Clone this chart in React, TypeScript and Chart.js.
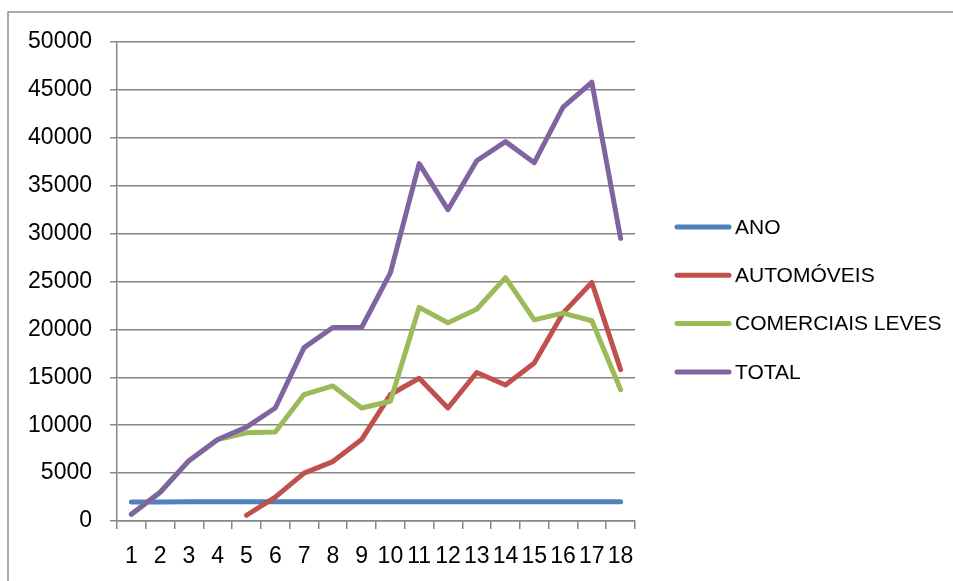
import { useEffect, useRef } from "react";
import { Chart, registerables } from "chart.js";

Chart.register(...registerables);

const categories = ["1", "2", "3", "4", "5", "6", "7", "8", "9", "10", "11", "12", "13", "14", "15", "16", "17", "18"];
const seriesNames = ["ANO", "AUTOMÓVEIS", "COMERCIAIS LEVES", "TOTAL"];
const ano = [1995, 1996, 1997, 1998, 1999, 2000, 2001, 2002, 2003, 2004, 2005, 2006, 2007, 2008, 2009, 2010, 2011, 2012];
const automoveis = [null, null, null, null, 600, 2500, 5000, 6200, 8500, 13200, 14900, 11800, 15500, 14200, 16500, 21700, 24900, 15800];
const comerciaisLeves = [700, 3000, 6300, 8500, 9200, 9300, 13200, 14100, 11800, 12500, 22300, 20700, 22100, 25400, 21000, 21700, 20900, 13700];
const total = [700, 3000, 6300, 8500, 9800, 11800, 18100, 20200, 20200, 25900, 37300, 32500, 37600, 39600, 37400, 43200, 45800, 29500];
const seriesColors = ["#4F81BD", "#C0504D", "#9BBB59", "#8064A2"];
const yMin = 0;
const yMax = 50000;
const yStep = 5000;

const FONT = "'Liberation Sans', Arial, sans-serif";
const GRID = "#868686";

export default function App() {
  const ref = useRef<HTMLCanvasElement>(null);

  useEffect(() => {
    const frame = {
      id: "frame",
      beforeDraw(chart: any) {
        const ctx = chart.ctx;
        ctx.save();
        ctx.fillStyle = "#ffffff";
        ctx.fillRect(0, 0, chart.width, chart.height);
        ctx.strokeStyle = "#8f8f8f";
        ctx.lineWidth = 1.5;
        ctx.strokeRect(8, 12, chart.width + 20, chart.height + 20);
        ctx.restore();
      },
    };
    const legendPlugin = {
      id: "customLegend",
      afterDraw(chart: any) {
        const ctx = chart.ctx;
        ctx.save();
        ctx.font = `21px ${FONT}`;
        ctx.textBaseline = "middle";
        ctx.textAlign = "left";
        seriesNames.forEach((name, i) => {
          const y = 227 + i * 48.3;
          ctx.strokeStyle = seriesColors[i];
          ctx.lineWidth = 5;
          ctx.lineCap = "round";
          ctx.beginPath();
          ctx.moveTo(677, y);
          ctx.lineTo(729, y);
          ctx.stroke();
          ctx.fillStyle = "#000000";
          ctx.fillText(name, 735, y + 1);
        });
        ctx.restore();
      },
    };

    const seriesData = [ano, automoveis, comerciaisLeves, total];
    const chart = new Chart(ref.current!, {
      type: "line",
      data: {
        labels: categories,
        datasets: seriesData.map((d, i) => ({
          label: seriesNames[i],
          data: d as any,
          borderColor: seriesColors[i],
          backgroundColor: seriesColors[i],
          borderWidth: 5,
          pointRadius: 0,
          pointHoverRadius: 0,
          tension: 0,
          fill: false,
          borderCapStyle: "round",
          borderJoinStyle: "round",
          order: 3 - i,
        })),
      },
      options: {
        responsive: false,
        animation: false,
        layout: { padding: { left: 0, right: 318, top: 42, bottom: 0 } },
        plugins: { legend: { display: false }, tooltip: { enabled: false } },
        scales: {
          x: {
            offset: true,
            grid: { offset: true, drawOnChartArea: false, drawTicks: true, tickLength: 8, color: GRID, lineWidth: 1.5 },
            border: { color: GRID, width: 1.5 },
            ticks: { color: "#000", font: { family: FONT, size: 23 }, padding: 14, autoSkip: false, maxRotation: 0 },
            afterFit(s: any) {
              s.height = 60;
            },
          },
          y: {
            min: yMin,
            max: yMax,
            ticks: {
              stepSize: yStep,
              color: "#000",
              font: { family: FONT, size: 23 },
              padding: 18,
              callback: (v: any) => String(v),
            },
            grid: { color: GRID, lineWidth: 1.5, tickLength: 7 },
            border: { color: GRID, width: 1.5 },
            afterFit(s: any) {
              s.width = 117;
            },
          },
        },
      },
      plugins: [frame, legendPlugin],
    });
    return () => chart.destroy();
  }, []);

  return (
    <div style={{ position: "absolute", left: 0, top: 0, width: 953, height: 581 }}>
      <canvas ref={ref} width={953} height={581} style={{ display: "block" }} />
    </div>
  );
}
